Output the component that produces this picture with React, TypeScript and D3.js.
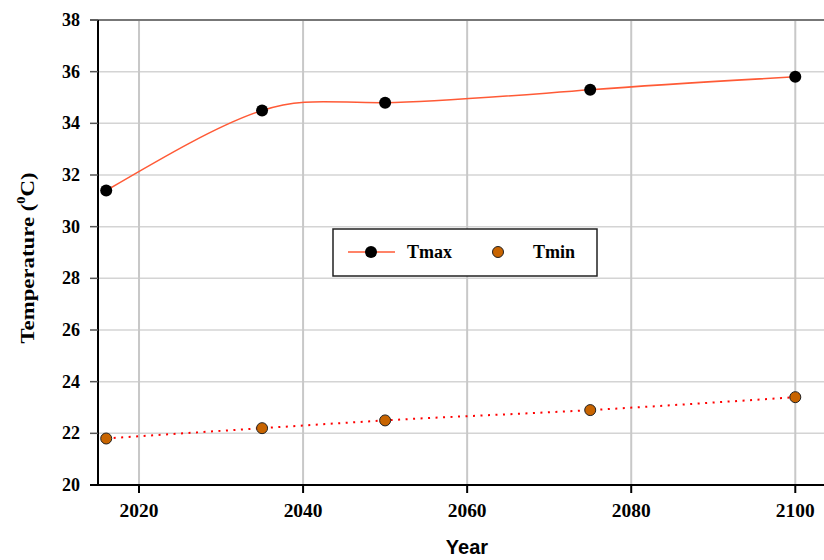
import React from "react";
import * as d3 from "d3";

// chart data
const years = [2016, 2035, 2050, 2075, 2100];
const tmax = [31.4, 34.5, 34.8, 35.3, 35.8];
const tmin = [21.8, 22.2, 22.5, 22.9, 23.4];
const yTicks = [20, 22, 24, 26, 28, 30, 32, 34, 36, 38];
const xTicks = [2020, 2040, 2060, 2080, 2100];

const W = 824;
const H = 560;
const left = 98;
const top = 20;
const bottom = 485;

const serif = "'Liberation Serif', 'Times New Roman', serif";
const sans = "'Liberation Sans', Arial, sans-serif";

export default function App() {
  const x = d3.scaleLinear().domain([2015, 2103.5]).range([left, W]);
  const y = d3.scaleLinear().domain([20, 38]).range([bottom, top]);

  const maxLine = d3
    .line<number>()
    .x((_, i) => x(years[i]))
    .y((d) => y(d))
    .curve(d3.curveNatural);
  const minLine = d3
    .line<number>()
    .x((_, i) => x(years[i]))
    .y((d) => y(d))
    .curve(d3.curveMonotoneX);

  return (
    <svg
      width={W}
      height={H}
      style={{ position: "absolute", left: 0, top: 0, background: "#fff" }}
    >
      {/* grid */}
      {yTicks.map((t) => (
        <line
          key={"gy" + t}
          x1={left}
          x2={W}
          y1={y(t)}
          y2={y(t)}
          stroke="#d4d4d4"
          strokeWidth={1.5}
        />
      ))}
      {xTicks.map((t) => (
        <line
          key={"gx" + t}
          x1={x(t)}
          x2={x(t)}
          y1={top}
          y2={bottom}
          stroke="#c8c8c8"
          strokeWidth={2}
        />
      ))}
      {/* top frame */}
      <line x1={90} x2={W} y1={top} y2={top} stroke="#777" strokeWidth={2} />

      {/* y axis */}
      <line x1={left} x2={left} y1={top} y2={bottom} stroke="#000" strokeWidth={2} />
      {yTicks.map((t) => (
        <g key={"yt" + t}>
          <line x1={90} x2={left} y1={y(t)} y2={y(t)} stroke="#555" strokeWidth={1.5} />
          <text
            x={80}
            y={y(t) + 6}
            textAnchor="end"
            fontFamily={serif}
            fontWeight="bold"
            fontSize={18}
          >
            {t}
          </text>
        </g>
      ))}

      {/* x axis */}
      <line x1={90} x2={W} y1={bottom} y2={bottom} stroke="#000" strokeWidth={2} />
      {xTicks.map((t) => (
        <g key={"xt" + t}>
          <line x1={x(t)} x2={x(t)} y1={bottom} y2={bottom + 8} stroke="#000" strokeWidth={2} />
          <text
            transform={`translate(${x(t)},517) scale(1.08,1)`}
            textAnchor="middle"
            fontFamily={serif}
            fontWeight="bold"
            fontSize={18}
          >
            {t}
          </text>
        </g>
      ))}

      {/* series */}
      <path d={maxLine(tmax) ?? ""} fill="none" stroke="#ff5a36" strokeWidth={1.5} />
      <path
        d={minLine(tmin) ?? ""}
        fill="none"
        stroke="#ff0000"
        strokeWidth={2}
        strokeDasharray="2,5.5"
      />
      {tmax.map((v, i) => (
        <circle key={"mx" + i} cx={x(years[i])} cy={y(v)} r={6} fill="#000" />
      ))}
      {tmin.map((v, i) => (
        <circle
          key={"mn" + i}
          cx={x(years[i])}
          cy={y(v)}
          r={5.5}
          fill="#c86400"
          stroke="#222"
          strokeWidth={1}
        />
      ))}

      {/* legend */}
      <rect x={333} y={229} width={264} height={47} fill="#fff" stroke="#222" strokeWidth={1.5} />
      <line x1={348} x2={395} y1={252} y2={252} stroke="#ff5a36" strokeWidth={1.5} />
      <circle cx={371} cy={252} r={6} fill="#000" />
      <text x={407} y={258} fontFamily={serif} fontWeight="bold" fontSize={18}>
        Tmax
      </text>
      <circle cx={498} cy={252} r={5.5} fill="#c86400" stroke="#222" strokeWidth={1} />
      <text x={533} y={258} fontFamily={serif} fontWeight="bold" fontSize={18}>
        Tmin
      </text>

      {/* axis titles */}
      <text
        transform="translate(34,258) rotate(-90) scale(1.2,1)"
        textAnchor="middle"
        fontFamily={serif}
        fontWeight="bold"
        fontSize={19}
      >
        Temperature (
        <tspan dy={-9} fontSize={12}>
          0
        </tspan>
        <tspan dy={9}>C)</tspan>
      </text>
      <text
        x={467}
        y={554}
        textAnchor="middle"
        fontFamily={sans}
        fontWeight="bold"
        fontSize={20}
      >
        Year
      </text>
    </svg>
  );
}
